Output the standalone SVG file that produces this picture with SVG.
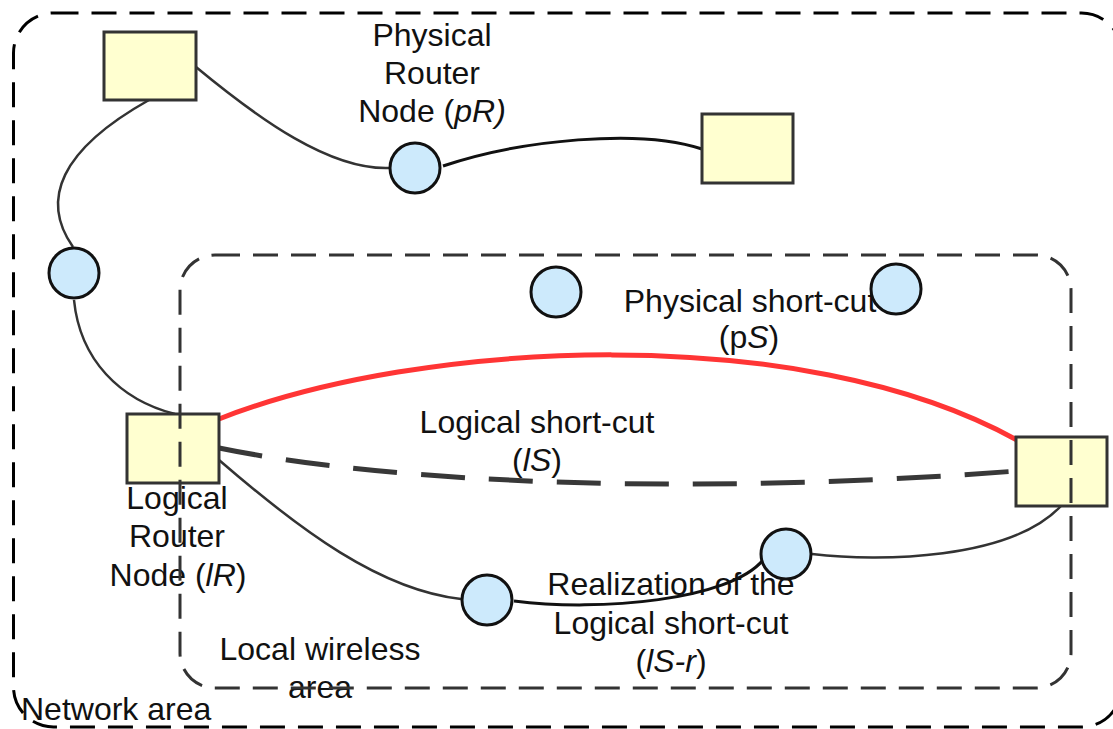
<svg xmlns="http://www.w3.org/2000/svg" width="1113" height="729" viewBox="0 0 1113 729">
  <style>
    .lbl { font-family: "Liberation Sans", Arial, sans-serif; font-size: 32px; fill: #111; text-anchor: middle; }
    .it { font-style: italic; }
    .box { fill: #ffffd0; stroke: #333; stroke-width: 3; }
    .node { fill: #cdeafc; stroke: #111; stroke-width: 3; }
    .link { fill: none; stroke: #333; stroke-width: 2.5; }
    .link-dark { fill: none; stroke: #111; stroke-width: 3; }
    .shortcut { fill: none; stroke: #ff3535; stroke-width: 5; }
    .logical { fill: none; stroke: #383838; stroke-width: 5; stroke-dasharray: 44 24; }
    .area { fill: none; stroke-width: 3; stroke-dasharray: 25 13; }
  </style>

  <!-- labels -->
  <g id="labels">
    <text class="lbl" x="432" y="46">Physical</text>
    <text class="lbl" x="432" y="84">Router</text>
    <text class="lbl" x="432" y="122">Node (<tspan class="it">pR)</tspan></text>

    <text class="lbl" x="750" y="312">Physical short-cut</text>
    <text class="lbl" x="749" y="348">(p<tspan class="it">S</tspan>)</text>

    <text class="lbl" x="537" y="433">Logical short-cut</text>
    <text class="lbl" x="537" y="471">(<tspan class="it">lS</tspan>)</text>

    <text class="lbl" x="177" y="509">Logical</text>
    <text class="lbl" x="177" y="547">Router</text>
    <text class="lbl" x="178" y="586">Node (<tspan class="it">lR</tspan>)</text>

    <text class="lbl" x="671" y="595">Realization of the</text>
    <text class="lbl" x="671" y="634">Logical short-cut</text>
    <text class="lbl" x="671" y="672">(<tspan class="it">lS-r</tspan>)</text>

    <text class="lbl" x="320" y="660">Local wireless</text>
    <text class="lbl" x="320" y="698">area</text>

    <text class="lbl" x="21" y="720" style="text-anchor:start">Network area</text>
  </g>

  <!-- connectors -->
  <g id="connectors">
    <path class="link" d="M196,67 C260,120 330,170 389,168"/>
    <path class="link-dark" d="M443,166 C520,140 640,128 702,149"/>
    <path class="link" d="M149,100 C60,150 40,200 73,247"/>
    <path class="link" d="M74,300 C80,360 120,400 175,414"/>
    <path class="link" d="M219,460 C300,530 380,590 461,599"/>
    <path class="link-dark" d="M514,601 C600,612 730,600 763,560"/>
    <path class="link" d="M812,554 C880,562 1010,560 1061,506"/>
    <path class="shortcut" d="M219,419 C420,340 800,320 1017,440"/>
    <path class="logical" d="M219,448 C400,485 700,495 1017,471"/>
  </g>

  <!-- router nodes -->
  <g id="router-top-left"><rect class="box" x="104" y="32" width="92" height="68"/></g>
  <g id="router-top-right"><rect class="box" x="702" y="114" width="91" height="69"/></g>
  <g id="router-logical-left"><rect class="box" x="127" y="414" width="92" height="69"/></g>
  <g id="router-logical-right"><rect class="box" x="1016" y="437" width="91" height="69"/></g>

  <!-- wireless nodes -->
  <g id="node-pr"><circle class="node" cx="415" cy="168" r="25"/></g>
  <g id="node-left"><circle class="node" cx="74" cy="273" r="25"/></g>
  <g id="node-inner-a"><circle class="node" cx="556" cy="292" r="25"/></g>
  <g id="node-inner-b"><circle class="node" cx="896" cy="289" r="25"/></g>
  <g id="node-lower-a"><circle class="node" cx="487" cy="600" r="25"/></g>
  <g id="node-lower-b"><circle class="node" cx="786" cy="554" r="25"/></g>

  <!-- areas -->
  <g id="network-area"><rect class="area" stroke="#000" x="13.5" y="13" width="1108" height="714" rx="40"/></g>
  <g id="local-wireless-area"><rect class="area" stroke="#333" x="180" y="255" width="891" height="433" rx="35"/></g>
</svg>
